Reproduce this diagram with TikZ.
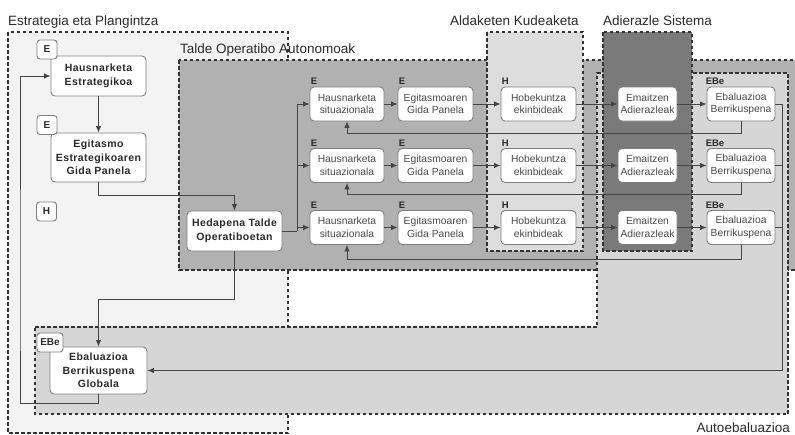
\documentclass[tikz,border=0pt]{standalone}
\usepackage{fontspec}
\setmainfont{Liberation Sans}
\newfontfamily\boldsans[LetterSpace=4]{Liberation Sans}
\usetikzlibrary{arrows.meta,calc}
\definecolor{cEst}{HTML}{F3F3F3}
\definecolor{cTal}{HTML}{B1B1B1}
\definecolor{cAld}{HTML}{DDDDDD}
\definecolor{cAut}{HTML}{D6D6D6}
\definecolor{cAdi}{HTML}{7A7A7A}
\definecolor{dashc}{HTML}{333333}
\definecolor{boxc}{HTML}{7F7F7F}
\definecolor{linec}{HTML}{444444}
\definecolor{txtc}{HTML}{4A4A4A}
\definecolor{darktxt}{HTML}{2A2A2A}
\tikzset{
  region/.style={draw=dashc, dash pattern=on 3.5pt off 2.5pt, line width=1.1pt},
  rbox/.style={draw=boxc, fill=white, rounded corners=4pt, line width=0.9pt,
    minimum width=74pt, minimum height=34pt, inner sep=1pt, align=center,
    font=\fontsize{10.3}{12.5}\selectfont, text=txtc},
  lbox/.style={rbox, minimum width=95pt, text=darktxt,
    font=\boldsans\bfseries\fontsize{10.5}{13.5}\selectfont},
  badge/.style={draw=boxc, fill=white, rounded corners=3pt, line width=0.9pt,
    minimum width=20pt, minimum height=19pt, inner sep=1pt, text=darktxt,
    font=\bfseries\fontsize{10}{11}\selectfont},
  tag/.style={anchor=south west, inner sep=0pt, yshift=1.5pt, xshift=1pt, text=darktxt,
    font=\bfseries\fontsize{9.5}{10}\selectfont},
  title/.style={anchor=base west, inner sep=0pt, text=darktxt,
    font=\fontsize{13.5}{15}\selectfont},
  conn/.style={draw=linec, line width=0.9pt},
  arr/.style={conn, -{Latex[length=6.5pt,width=5.5pt]}}
}
\begin{document}
\begin{tikzpicture}[x=1pt,y=-1pt]
\useasboundingbox (0,0) rectangle (795,434);
\clip (0,0) rectangle (795,434);
\fill[white] (0,0) rectangle (795,434);
% regions
\draw[region, fill=cEst] (8,32) rectangle (288,433);
\draw[region, fill=cTal] (179,60) rectangle (804,270);
\draw[region, fill=cAld] (487,32) rectangle (583,251);
\draw[region, fill=cAut] (35,327) -- (597,327) -- (597,73) -- (788,73) -- (788,414) -- (35,414) -- cycle;
\draw[region, fill=cAdi] (603,32) rectangle (692,251);
% titles
\node[title] (tEst) at (8,25) {Estrategia eta Plangintza};
\node[title] (tTal) at (180,53) {Talde Operatibo Autonomoak};
\node[title] (tAld) at (450,25) {Aldaketen Kudeaketa};
\node[title] (tAdi) at (603,25) {Adierazle Sistema};
\node[title, anchor=base east] (tAut) at (790,432) {Autoebaluazioa};
% left column
\node[lbox, minimum height=40pt] (hse) at (98.5,76) {Hausnarketa\\Estrategikoa};
\node[lbox, minimum height=49pt] (egs) at (98.5,157.5) {Egitasmo\\Estrategikoaren\\Gida Panela};
\node[lbox, minimum height=40pt] (hed) at (234.5,231) {Hedapena Talde\\Operatiboetan};
\node[lbox, minimum width=97pt, minimum height=47pt] (glob) at (98.5,370.5) {Ebaluazioa\\Berrikuspena\\Globala};
\node[badge] (bE1) at (47,49.5) {E};
\node[badge] (bE2) at (47,125) {E};
\node[badge] (bH) at (46.5,211.5) {H};
\node[badge, minimum width=26pt] (bEBe) at (50,342.5) {EBe};
% rows
\foreach \r/\y in {1/104,2/165.5,3/227.5}{
  \node[rbox] (h\r) at (347,\y) {Hausnarketa\\situazionala};
  \node[rbox, minimum width=75pt] (g\r) at (435.5,\y) {Egitasmoaren\\Gida Panela};
  \node[rbox, minimum width=75pt] (k\r) at (538.5,\y) {Hobekuntza\\ekinbideak};
  \node[rbox, minimum width=59pt] (m\r) at (647.5,\y) {Emaitzen\\Adierazleak};
  \node[rbox, minimum width=68pt] (e\r) at (741,\y) {Ebaluazioa\\Berrikuspena};
  \node[tag] (th\r) at (h\r.north west) {E};
  \node[tag] (tg\r) at (g\r.north west) {E};
  \node[tag] (tk\r) at (k\r.north west) {H};
  \node[tag, xshift=-2pt] (te\r) at (e\r.north west) {EBe};
  \draw[arr] (h\r.east) -- (g\r.west);
  \draw[arr] (g\r.east) -- (k\r.west);
  \draw[arr] (k\r.east) -- (m\r.west);
  \draw[arr] (m\r.east) -- (e\r.west);
}
% feedback to situational analysis
\draw[arr] (e1.south) -- ++(0,12) -| (h1.south);
\draw[arr] (e2.south) -- ++(0,11.5) -| (h2.south);
\draw[arr] (e3.south) -- ++(0,14) -| (h3.south);
% right collector to global evaluation
\coordinate (rv) at (782,104);
\draw[conn] (e2.east) -- (e2.east -| rv);
\draw[conn] (e3.east) -- (e3.east -| rv);
\draw[arr] (e1.east) -- (e1.east -| rv) |- (glob.east);
% distribution from Hedapena
\coordinate (split) at (297,231);
\draw[conn] (hed.east) -- (split);
\draw[arr] (split) |- (h1.west);
\draw[arr] (split) |- (h2.west);
\draw[arr] (split) |- (h3.west);
% left column flow
\draw[arr] (hse.south) -- (egs.north);
\draw[arr] (egs.south) -- ++(0,13) -| (hed.north);
\draw[arr] (hed.south) -- ++(0,48) -| (glob.north);
\coordinate (lv) at (20,300);
\draw[arr] (glob.south) -- ++(0,9) -| (lv) |- (hse.west);
\end{tikzpicture}
\end{document}
